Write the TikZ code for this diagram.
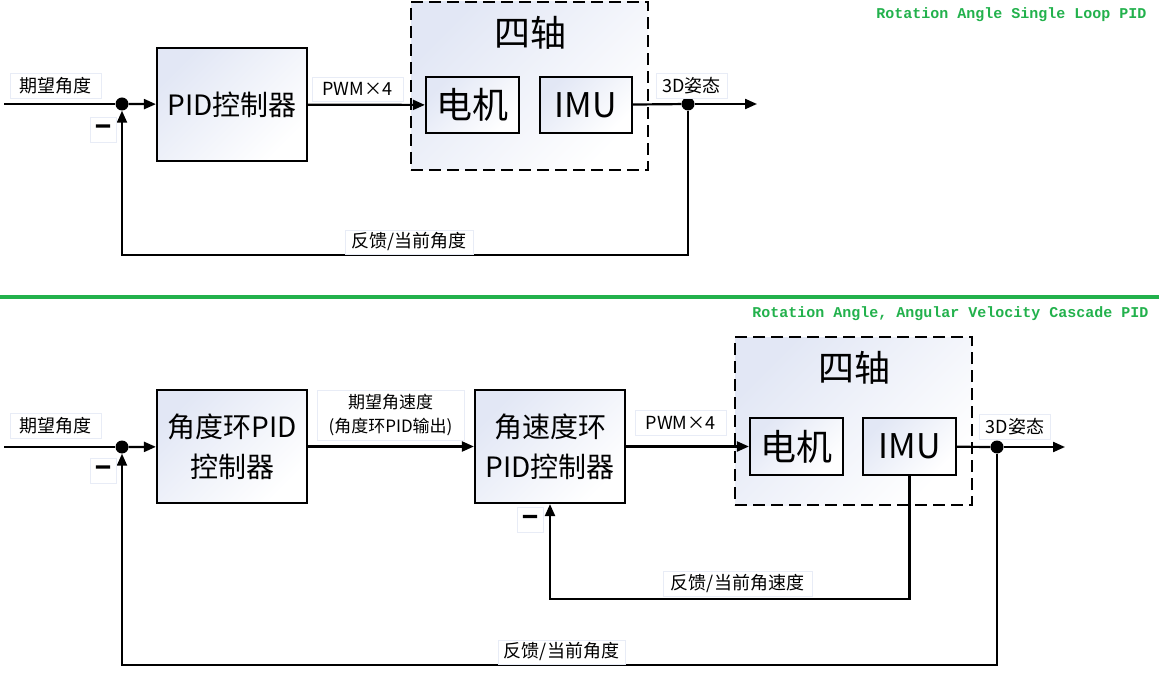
\documentclass[tikz,border=0pt]{standalone}
\usepackage{fontspec}
\setmainfont{Noto Sans CJK SC}
\newfontfamily\titlefont{Liberation Mono}
\newfontfamily\minusfont[FakeBold=6]{Noto Sans CJK SC}
\usetikzlibrary{arrows.meta,shadings}
\definecolor{titlegreen}{RGB}{34,177,76}
\definecolor{boxtint}{RGB}{226,231,245}
\definecolor{tagline}{RGB}{232,236,246}
\tikzset{
	block/.style={draw, line width=2.2pt, top color=boxtint, bottom color=white, shading angle=45, inner sep=0pt, align=center},
	plant/.style={block, dashed, dash pattern=on 12pt off 6pt},
	tag/.style={draw=tagline, line width=0.8pt, fill=white, inner sep=0pt, font=\fontsize{18}{24}\selectfont, align=center},
	minustag/.style={tag, minimum width=26pt, minimum height=25pt, font=\minusfont\fontsize{28}{28}\selectfont},
	sumdot/.style={circle, fill=black, minimum size=13pt, inner sep=0pt},
	flow/.style={line width=2.2pt, -{Triangle[length=12pt,width=10pt]}},
	wire/.style={line width=2.2pt},
	heading/.style={text=titlegreen, font=\titlefont\bfseries\fontsize{15}{15}\selectfont, anchor=east}
}
\begin{document}
\begin{tikzpicture}[x=1pt,y=-1pt]
	\useasboundingbox (0,0) rectangle (1159,676);
	% single loop
	\node[heading] (title1) at (1150,15) {Rotation Angle Single Loop PID};
	\node[plant, minimum width=237pt, minimum height=168pt] (quad1) at (529.5,86) {};
	\node[font=\fontsize{36}{36}\selectfont] (quadname1) at (530,33) {四轴};
	\node[block, minimum width=150pt, minimum height=113pt, font=\fontsize{28}{40}\selectfont] (pid) at (232,104.5) {PID控制器};
	\node[block, minimum width=93pt, minimum height=56pt, font=\fontsize{36}{36}\selectfont] (motor1) at (472.5,105) {电机};
	\node[block, minimum width=92pt, minimum height=56pt, font=\fontsize{34}{34}\selectfont] (imu1) at (586,105) {IMU};
	\node[sumdot] (sum1) at (122,104) {};
	\node[sumdot] (out1) at (688,104) {};
	\coordinate (in1) at (4,104);
	\coordinate (end1) at (757,104);
	
	\draw[wire] (in1) -- (sum1);
	\draw[flow] (sum1) -- (pid);
	\draw[flow] (pid) -- (motor1);
	\draw[wire] (imu1) -- (out1);
	\draw[flow] (out1) -- (end1);
	\draw[flow] (out1) -- ++(0,151) -| (sum1);
	
	\node[tag, minimum width=91pt, minimum height=25pt] (want1) at (55.5,85.5) {期望角度};
	\node[minustag] (minus1) at (103,129.5) {–};
	\node[tag, minimum width=91pt, minimum height=24pt] (pwm1) at (357.5,89) {PWM×4};
	\node[tag, minimum width=71pt, minimum height=25pt] (pose1) at (691.5,85.5) {3D姿态};
	\node[tag, minimum width=128pt, minimum height=24pt] (back1) at (409,242) {反馈/当前角度};
	
	\fill[titlegreen] (0,295) rectangle (1159,299);
	
	% cascade
	\node[heading] (title2) at (1152,314) {Rotation Angle, Angular Velocity Cascade PID};
	\node[plant, minimum width=237pt, minimum height=168pt] (quad2) at (853.5,421) {};
	\node[font=\fontsize{36}{36}\selectfont] (quadname2) at (854,368) {四轴};
	\node[block, minimum width=150pt, minimum height=113pt, font=\fontsize{28}{40}\selectfont] (anglepid) at (232,446.5) {角度环PID\\控制器};
	\node[block, minimum width=150pt, minimum height=113pt, font=\fontsize{28}{40}\selectfont] (ratepid) at (550,446.5) {角速度环\\PID控制器};
	\node[block, minimum width=93pt, minimum height=57pt, font=\fontsize{36}{36}\selectfont] (motor2) at (796.5,446.5) {电机};
	\node[block, minimum width=93pt, minimum height=57pt, font=\fontsize{34}{34}\selectfont] (imu2) at (909.5,446.5) {IMU};
	\node[sumdot] (sum2) at (122,447) {};
	\node[sumdot] (out2) at (997,447) {};
	\coordinate (in2) at (4,447);
	\coordinate (end2) at (1065,447);
	
	\draw[wire] (in2) -- (sum2);
	\draw[flow] (sum2) -- (anglepid);
	\draw[flow] (anglepid) -- (ratepid);
	\draw[flow] (ratepid) -- (motor2);
	\draw[wire] (imu2) -- (out2);
	\draw[flow] (out2) -- (end2);
	\draw[flow] (imu2.south) -- ++(0,123) -| (ratepid.south);
	\draw[flow] (out2) -- ++(0,218) -| (sum2);
	
	\node[tag, minimum width=91pt, minimum height=25pt] (want2) at (55.5,425.5) {期望角度};
	\node[minustag] (minus2) at (103,470.5) {–};
	\node[tag, minimum width=147pt, minimum height=50pt, font=\fontsize{17}{24}\selectfont] (rateset) at (390.5,415) {期望角速度\\(角度环PID输出)};
	\node[minustag] (minus3) at (530,520) {–};
	\node[tag, minimum width=91pt, minimum height=25pt] (pwm2) at (680.5,423) {PWM×4};
	\node[tag, minimum width=71pt, minimum height=25pt] (pose2) at (1015,426.5) {3D姿态};
	\node[tag, minimum width=149pt, minimum height=25pt] (back3) at (737.5,583.5) {反馈/当前角速度};
	\node[tag, minimum width=127pt, minimum height=24pt] (back2) at (561.5,652) {反馈/当前角度};
\end{tikzpicture}
\end{document}
